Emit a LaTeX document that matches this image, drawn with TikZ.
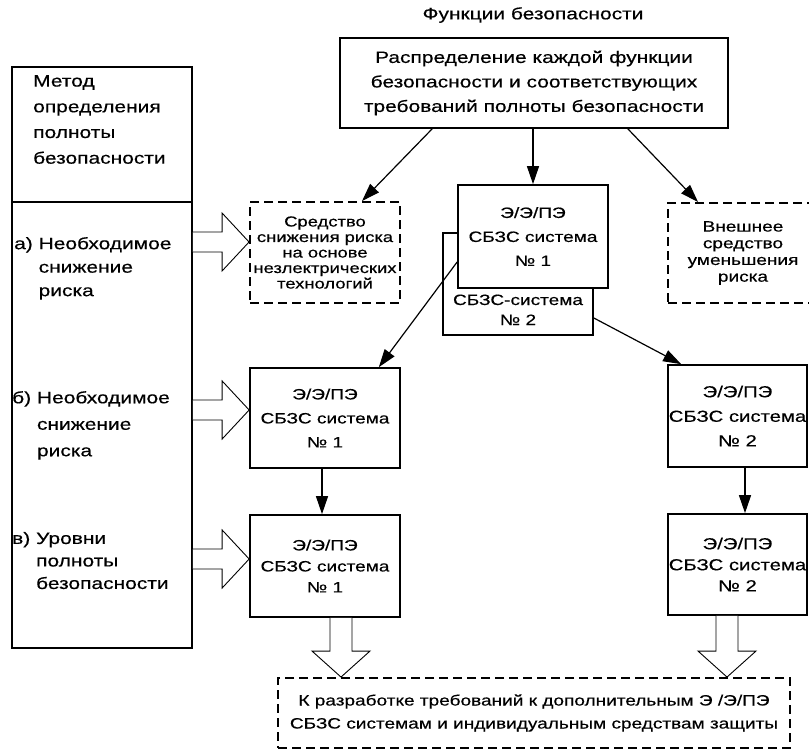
\documentclass[tikz,border=0pt]{standalone}
\usepackage{fontspec}
\setmainfont{Liberation Sans}[FakeStretch=1.27, FakeBold=0.4]
\usetikzlibrary{arrows.meta,calc}
\begin{document}
\begin{tikzpicture}[x=1pt,y=-1pt,
  box/.style={draw, line width=1.7pt, fill=white, inner sep=0pt, align=center},
  dbox/.style={draw, dash pattern=on 9pt off 5pt, line width=1.9pt, fill=white, inner sep=0pt, align=center},
  arr/.style={line width=1.2pt, -{Triangle[length=18pt,width=12pt]}},
  hollow/.style={draw, line width=0.9pt, fill=white, line join=miter},
  big/.style={font=\fontsize{16.5}{24.5}\selectfont},
  boxtxt/.style={font=\fontsize{15}{24}\selectfont},
  lefttxt/.style={inner sep=0pt, anchor=north west, align=left}]
\useasboundingbox (0,0) rectangle (809,755);
\fill[white] (0,0) rectangle (809,755);

% title
\node[big, inner sep=0pt] (title) at (533,15) {Функции безопасности};

% main box
\node[box, big, minimum width=388pt, minimum height=90pt] (main) at (534,83)
  {Распределение каждой функции\\безопасности и соответствующих\\требований полноты безопасности};

% left column
\node[box, minimum width=180pt, minimum height=135pt] (left1) at (102,134.5) {};
\node[box, minimum width=180pt, minimum height=446pt] (left2) at (102,425) {};
\node[lefttxt, font=\fontsize{16.5}{25.7}\selectfont] (lt1) at (33,75) {Метод\\определения\\полноты\\безопасности};
\node[lefttxt, font=\fontsize{16.5}{23.5}\selectfont] (lta) at (14,232.5) {\begin{tabular}{@{}l@{ }l@{}}а) & Необходимое\\ & снижение\\ & риска\end{tabular}};
\node[lefttxt, font=\fontsize{16.5}{26.5}\selectfont] (ltb) at (12,384.5) {\begin{tabular}{@{}l@{ }l@{}}б) & Необходимое\\ & снижение\\ & риска\end{tabular}};
\node[lefttxt, font=\fontsize{16.5}{22.5}\selectfont] (ltc) at (12,528) {\begin{tabular}{@{}l@{ }l@{}}в) & Уровни\\ & полноты\\ & безопасности\end{tabular}};

% second row
\node[dbox, font=\fontsize{14.5}{15.5}\selectfont, minimum width=150pt, minimum height=101pt] (dash1) at (325,252.5)
  {Средство\\снижения риска\\на основе\\незлектрических\\технологий};
\node[box, boxtxt, minimum width=150pt, minimum height=102pt] (c2) at (518,284)
  {\\[38pt]СБЗС-система\\[-4pt]№ 2};
\node[box, boxtxt, minimum width=150pt, minimum height=103pt] (c1) at (533,236.5)
  {Э/Э/ПЭ\\СБЗС система\\№ 1};
\node[dbox, font=\fontsize{15}{16.7}\selectfont, minimum width=150pt, minimum height=100pt] (ext) at (743,253)
  {Внешнее\\средство\\уменьшения\\риска};

% third row
\node[box, boxtxt, minimum width=150pt, minimum height=100pt] (b1) at (325,418)
  {Э/Э/ПЭ\\СБЗС система\\№ 1};
\node[box, font=\fontsize{16}{24.5}\selectfont, minimum width=139pt, minimum height=102pt] (b2) at (737.5,416)
  {Э/Э/ПЭ\\СБЗС система\\№ 2};

% fourth row
\node[box, font=\fontsize{15}{21}\selectfont, minimum width=150pt, minimum height=102pt] (v1) at (325,566)
  {Э/Э/ПЭ\\СБЗС система\\№ 1};
\node[box, font=\fontsize{16}{21}\selectfont, minimum width=139pt, minimum height=101pt] (v2) at (737.5,564.5)
  {Э/Э/ПЭ\\СБЗС система\\№ 2};

% bottom
\node[dbox, font=\fontsize{15}{23}\selectfont, minimum width=512pt, minimum height=70pt] (bot) at (534,713)
  {К разработке требований к дополнительным Э /Э/ПЭ\\СБЗС системам и индивидуальным средствам защиты};

% arrows
\draw[arr] (c1.north |- main.south) -- (c1.north);
\draw[arr] ([xshift=93pt]main.south west) -- ([xshift=37pt]dash1.north);
\draw[arr] ([xshift=-101pt]main.south east) -- ([xshift=31pt]ext.north west);
\draw[arr] ([yshift=-25.5pt]c1.west) -- ([xshift=-22pt]b1.north east);
\draw[arr] ([yshift=-34pt]c2.east) -- ([xshift=14pt]b2.north west);
\draw[arr] ([xshift=-3pt]b1.south) -- ([xshift=-3pt]v1.north);
\draw[arr] ([xshift=7.5pt]b2.south) -- ([xshift=7.5pt]v2.north);

% hollow arrows right
\coordinate (ta) at (dash1.west |- 0,242);
\coordinate (tb) at (b1.west |- 0,410);
\coordinate (tc) at (v1.west |- 0,559);
\foreach \t in {ta,tb,tc}{
  \coordinate (s) at (left2.east |- \t);
  \draw[hollow] ($(s)+(0,-10)$) -- ($(\t)+(-27,-10)$) -- ($(\t)+(-27,-29)$) -- (\t)
     -- ($(\t)+(-27,29)$) -- ($(\t)+(-27,10)$) -- ($(s)+(0,10)$);
}
% hollow arrows down
\coordinate (d1) at (bot.north -| 341,0);
\coordinate (d2) at (bot.north -| 727,0);
\coordinate (e1) at (v1.south -| d1);
\coordinate (e2) at (v2.south -| d2);
\foreach \t/\s in {d1/e1,d2/e2}{
  \draw[hollow] ($(\s)+(-11,0)$) -- ($(\t)+(-11,-26)$) -- ($(\t)+(-29,-26)$) -- (\t)
     -- ($(\t)+(29,-26)$) -- ($(\t)+(11,-26)$) -- ($(\s)+(11,0)$);
}
\end{tikzpicture}
\end{document}
